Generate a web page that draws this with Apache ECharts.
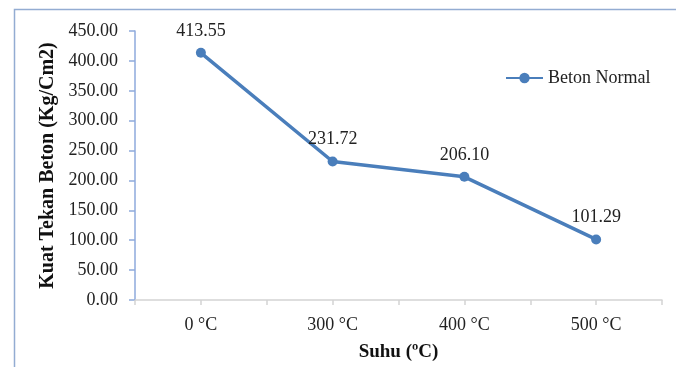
<!DOCTYPE html>
<html>
<head>
<meta charset="utf-8">
<script src="https://cdn.jsdelivr.net/npm/echarts@6/dist/echarts.min.js"></script>
<style>
html,body{margin:0;padding:0;background:#fff;}
#chart{width:676px;height:367px;}
</style>
</head>
<body>
<div id="chart"></div>
<script>
const categories = ['0 °C', '300 °C', '400 °C', '500 °C'];
const betonNormal = [413.55, 231.72, 206.10, 101.29];
const seriesName = 'Beton Normal';
const yTitle = 'Kuat Tekan Beton (Kg/Cm2)';
const xTitle = 'Suhu (ºC)';

const FONT = '"Liberation Serif", "Times New Roman", serif';
const chart = echarts.init(document.getElementById('chart'), null, {renderer: 'canvas'});
chart.setOption({
  animation: false,
  backgroundColor: '#fff',
  graphic: [{
    type: 'rect', left: 12, top: 7,
    shape: {x: 0, y: 0, width: 720, height: 420},
    style: {fill: 'none', stroke: '#93acd2', lineWidth: 1.5}
  }],
  grid: {left: 135, right: 14, top: 31, bottom: 67, containLabel: false},
  legend: {
    data: [seriesName],
    left: 500, top: 64,
    itemWidth: 37, itemHeight: 13, itemGap: 4,
    textStyle: {fontFamily: FONT, fontSize: 18, color: '#222'}
  },
  xAxis: [{
    type: 'category',
    data: categories,
    boundaryGap: true,
    axisLine: {lineStyle: {color: '#d4d4d4', width: 1.5}},
    axisTick: {show: true, length: 5, lineStyle: {color: '#d4d4d4', width: 1.5}},
    axisLabel: {fontFamily: FONT, fontSize: 18, color: '#222', margin: 16},
    name: xTitle,
    nameLocation: 'middle',
    nameGap: 43,
    nameTextStyle: {fontFamily: FONT, fontSize: 19, fontWeight: 'bold', color: '#111'}
  }, {
    type: 'category',
    data: categories,
    position: 'bottom',
    boundaryGap: true,
    axisLine: {show: false},
    axisTick: {show: true, alignWithLabel: true, length: 5, lineStyle: {color: '#d4d4d4', width: 1.5}},
    axisLabel: {show: false}
  }],
  yAxis: {
    type: 'value',
    min: 0, max: 450, interval: 50,
    axisLine: {show: true, lineStyle: {color: '#8eaadc', width: 1.5}},
    axisTick: {show: true, length: 6, lineStyle: {color: '#8eaadc', width: 1.5}},
    splitLine: {show: false},
    axisLabel: {fontFamily: FONT, fontSize: 18, color: '#222', margin: 17,
      formatter: v => v.toFixed(2)},
    name: yTitle,
    nameLocation: 'middle',
    nameGap: 77,
    nameTextStyle: {fontFamily: FONT, fontSize: 20, fontWeight: 'bold', color: '#111'}
  },
  series: [{
    name: seriesName,
    type: 'line',
    xAxisIndex: 0,
    data: betonNormal,
    symbol: 'circle',
    symbolSize: 10,
    lineStyle: {color: '#4a7ebb', width: 3.5},
    itemStyle: {color: '#4a7ebb'},
    label: {show: true, position: 'top', distance: 8,
      fontFamily: FONT, fontSize: 18, color: '#222',
      formatter: p => p.value.toFixed(2)}
  }]
});
</script>
</body>
</html>
